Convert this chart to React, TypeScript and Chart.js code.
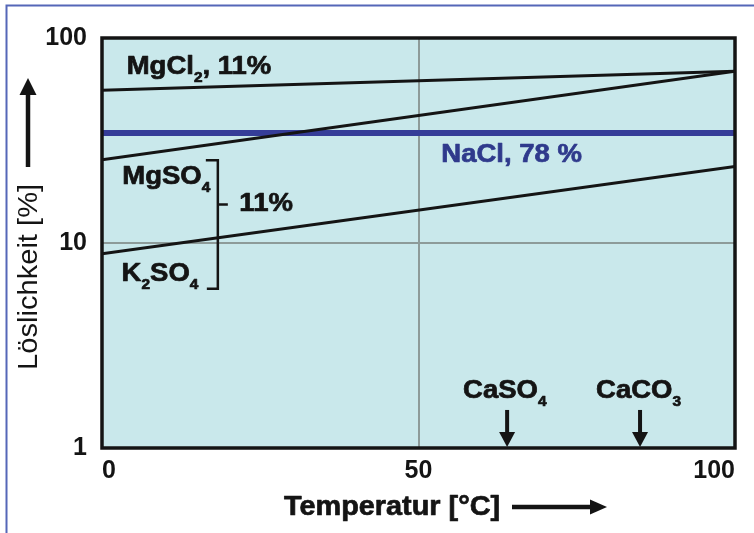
import { useEffect, useRef } from "react";
import { Chart, registerables } from "chart.js";

Chart.register(...registerables);

// ---- data ----
const temperatures = [0, 100];
const mgcl2 = [55.6, 68.8];
const mgso4 = [25.5, 68.8];
const nacl = [34.4, 34.4];
const k2so4 = [8.86, 23.6];
const xTicks = [0, 50, 100];
const yTicks = [1, 10, 100];
const markerNames = ["CaSO", "CaCO"];
const markerSubs = ["4", "3"];
const markerTemps = [64, 85];

const FONT = '"Liberation Sans", Arial, Helvetica, sans-serif';
const INK = "#141414";

type Part = [string, boolean];
interface Label {
  parts: Part[];
  x: number;
  y: number;
  color: string;
}

const labels: Label[] = [
  { parts: [["MgCl", false], ["2", true], [", 11%", false]], x: 3.9, y: 66.7, color: INK },
  { parts: [["NaCl, 78 %", false]], x: 53.6, y: 24.8, color: "#2f3a8c" },
  { parts: [["MgSO", false], ["4", true]], x: 3.2, y: 19.3, color: INK },
  { parts: [["K", false], ["2", true], ["SO", false], ["4", true]], x: 3.1, y: 6.56, color: INK },
  { parts: [["11%", false]], x: 21.7, y: 14.37, color: INK },
];

function drawParts(
  ctx: CanvasRenderingContext2D,
  parts: Part[],
  x: number,
  y: number,
  size: number,
  stretch: number,
  color: string,
  weight: string
) {
  ctx.save();
  ctx.translate(x, y);
  ctx.scale(stretch, 1);
  ctx.fillStyle = color;
  ctx.strokeStyle = color;
  ctx.lineWidth = 0.7;
  ctx.lineJoin = "round";
  ctx.textBaseline = "alphabetic";
  ctx.textAlign = "left";
  let cx = 0;
  for (const [t, sub] of parts) {
    const s = sub ? size * 0.56 : size;
    ctx.font = `${weight} ${s}px ${FONT}`;
    const ty = sub ? size * 0.32 : 0;
    ctx.fillText(t, cx, ty);
    if (weight === "bold") ctx.strokeText(t, cx, ty);
    cx += ctx.measureText(t).width;
  }
  ctx.restore();
}

function arrow(
  ctx: CanvasRenderingContext2D,
  x1: number,
  y1: number,
  x2: number,
  y2: number,
  lw: number,
  headLen: number,
  headHalf: number
) {
  const ang = Math.atan2(y2 - y1, x2 - x1);
  const bx = x2 - Math.cos(ang) * headLen;
  const by = y2 - Math.sin(ang) * headLen;
  ctx.save();
  ctx.strokeStyle = INK;
  ctx.fillStyle = INK;
  ctx.lineWidth = lw;
  ctx.beginPath();
  ctx.moveTo(x1, y1);
  ctx.lineTo(bx, by);
  ctx.stroke();
  ctx.beginPath();
  ctx.moveTo(x2, y2);
  ctx.lineTo(bx - Math.sin(ang) * headHalf, by + Math.cos(ang) * headHalf);
  ctx.lineTo(bx + Math.sin(ang) * headHalf, by - Math.cos(ang) * headHalf);
  ctx.closePath();
  ctx.fill();
  ctx.restore();
}

const decor = {
  id: "decor",
  beforeDraw(chart: any) {
    const { ctx, chartArea: a } = chart;
    ctx.save();
    ctx.fillStyle = "#ffffff";
    ctx.fillRect(0, 0, chart.width, chart.height);
    ctx.fillStyle = "#c9e8eb";
    ctx.fillRect(a.left, a.top, a.right - a.left, a.bottom - a.top);
    ctx.strokeStyle = "#5567b8";
    ctx.lineWidth = 2;
    ctx.beginPath();
    ctx.moveTo(6.5, chart.height);
    ctx.lineTo(6.5, 5.5);
    ctx.lineTo(chart.width, 5.5);
    ctx.stroke();
    ctx.restore();
  },
  afterDatasetsDraw(chart: any) {
    const { ctx, chartArea: a } = chart;
    const xs = chart.scales.x;
    const ys = chart.scales.y;
    // plot frame
    ctx.save();
    ctx.strokeStyle = INK;
    ctx.lineWidth = 3.5;
    ctx.strokeRect(a.left, a.top, a.right - a.left, a.bottom - a.top);
    ctx.restore();

    // labels
    for (const l of labels) {
      drawParts(ctx, l.parts, xs.getPixelForValue(l.x), ys.getPixelForValue(l.y), 25, 1.1, l.color, "bold");
    }

    // bracket for MgSO4 / K2SO4
    const bx = xs.getPixelForValue(18.3);
    const bTop = ys.getPixelForValue(25.3);
    const bBot = ys.getPixelForValue(5.99);
    const bMid = ys.getPixelForValue(15.4);
    ctx.save();
    ctx.strokeStyle = INK;
    ctx.lineWidth = 2.5;
    ctx.beginPath();
    ctx.moveTo(bx - 12, bTop);
    ctx.lineTo(bx, bTop);
    ctx.lineTo(bx, bBot);
    ctx.lineTo(bx - 11, bBot);
    ctx.moveTo(bx, bMid);
    ctx.lineTo(bx + 10, bMid);
    ctx.stroke();
    ctx.restore();

    // CaSO4 / CaCO3 markers
    for (let i = 0; i < markerTemps.length; i++) {
      const px = xs.getPixelForValue(markerTemps[i]);
      const tip = ys.getPixelForValue(1);
      const start = ys.getPixelForValue(1.533);
      arrow(ctx, px, start, px, tip - 1, 4, 15, 8);
      const parts: Part[] = [[markerNames[i], false], [markerSubs[i], true]];
      drawParts(ctx, parts, px - 44, ys.getPixelForValue(1.756), 25, 1.1, INK, "bold");
    }

    // x title + arrow
    drawParts(ctx, [["Temperatur [°C]", false]], 284, 515, 28, 1.03, INK, "bold");
    arrow(ctx, 512, 507, 607, 507, 4.5, 17, 7.5);

    // y title + arrow
    ctx.save();
    ctx.translate(37, 370);
    ctx.rotate(-Math.PI / 2);
    drawParts(ctx, [["Löslichkeit [%]", false]], 0, 0, 28, 1.04, INK, "normal");
    ctx.restore();
    arrow(ctx, 28, 167, 28, 78, 4.5, 17, 8.5);
  },
};

export default function App() {
  const ref = useRef<HTMLCanvasElement | null>(null);
  useEffect(() => {
    document.body.style.margin = "0";
    if (!ref.current) return;
    const mk = (vals: number[]) => temperatures.map((t, i) => ({ x: t, y: vals[i] }));
    const chart = new Chart(ref.current, {
      type: "line",
      data: {
        datasets: [
          { label: "MgCl2", data: mk(mgcl2), borderColor: INK, borderWidth: 3, pointRadius: 0 },
          { label: "MgSO4", data: mk(mgso4), borderColor: INK, borderWidth: 3, pointRadius: 0 },
          { label: "K2SO4", data: mk(k2so4), borderColor: INK, borderWidth: 3, pointRadius: 0 },
          { label: "NaCl", data: mk(nacl), borderColor: "#353d98", borderWidth: 6, pointRadius: 0 },
        ],
      },
      options: {
        responsive: false,
        animation: false,
        layout: { padding: { left: 0, top: 38, right: 19, bottom: 0 } },
        plugins: { legend: { display: false }, tooltip: { enabled: false } },
        scales: {
          x: {
            type: "linear",
            min: 0,
            max: 100,
            afterBuildTicks: (s: any) => {
              s.ticks = xTicks.map((v) => ({ value: v }));
            },
            afterFit: (s: any) => {
              s.height = 85;
            },
            border: { display: false },
            grid: {
              drawTicks: false,
              lineWidth: 2,
              color: (c: any) => (c.tick && c.tick.value === 50 ? "#8d9b99" : "rgba(0,0,0,0)"),
            },
            ticks: {
              align: "inner",
              padding: 8,
              maxRotation: 0,
              autoSkip: false,
              color: INK,
              font: { family: FONT, size: 25, weight: "bold" },
              callback: (v: any) => String(v),
            },
          },
          y: {
            type: "logarithmic",
            min: 1,
            max: 100,
            afterBuildTicks: (s: any) => {
              s.ticks = yTicks.map((v) => ({ value: v }));
            },
            afterFit: (s: any) => {
              s.width = 102;
            },
            border: { display: false },
            grid: {
              drawTicks: false,
              lineWidth: 2,
              color: (c: any) => (c.tick && c.tick.value === 10 ? "#8d9b99" : "rgba(0,0,0,0)"),
            },
            ticks: {
              padding: 15,
              autoSkip: false,
              color: INK,
              font: { family: FONT, size: 25, weight: "bold" },
              callback: (v: any) => String(v),
            },
          },
        },
      },
      plugins: [decor],
    } as any);
    return () => chart.destroy();
  }, []);
  return (
    <div style={{ width: 754, height: 533 }}>
      <canvas ref={ref} width={754} height={533} />
    </div>
  );
}
